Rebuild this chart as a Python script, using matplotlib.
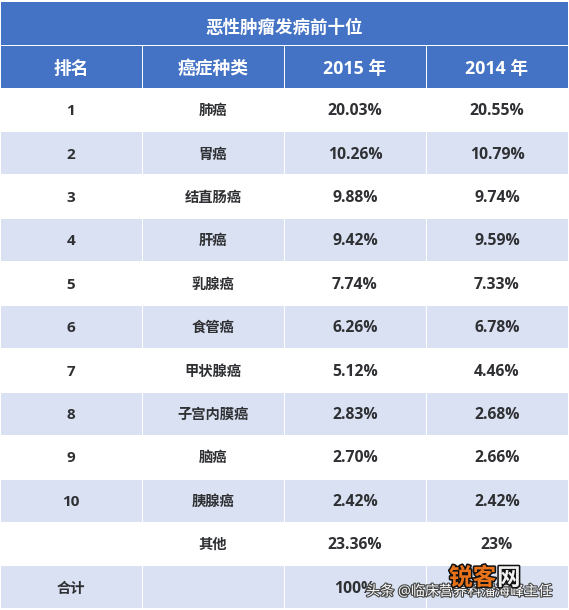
import matplotlib
matplotlib.use("Agg")
import matplotlib.pyplot as plt
from matplotlib.patches import Rectangle
import matplotlib.patheffects as pe

plt.rcParams['font.family'] = ['Open Sans', 'Noto Sans CJK SC', 'DejaVu Sans']

title = "恶性肿瘤发病前十位"
headers = ["排名", "癌症种类", "2015 年", "2014 年"]
ranks = ["1", "2", "3", "4", "5", "6", "7", "8", "9", "10", "", "合计"]
cancers = ["肺癌", "胃癌", "结直肠癌", "肝癌", "乳腺癌", "食管癌", "甲状腺癌", "子宫内膜癌", "脑癌", "胰腺癌", "其他", ""]
y2015 = ["20.03%", "10.26%", "9.88%", "9.42%", "7.74%", "6.26%", "5.12%", "2.83%", "2.70%", "2.42%", "23.36%", "100%"]
y2014 = ["20.55%", "10.79%", "9.74%", "9.59%", "7.33%", "6.78%", "4.46%", "2.68%", "2.66%", "2.42%", "23%", ""]

W, H = 569, 610
fig = plt.figure(figsize=(W / 100, H / 100), dpi=100)
ax = fig.add_axes([0, 0, 1, 1])
ax.set_xlim(0, W)
ax.set_ylim(H, 0)
ax.axis("off")

BLUE = "#4472c4"
BAND = "#d9e1f2"
INK = "#2f3033"
col_x = [1, 142, 284, 426, 568]
row_h = 43.4
top = 88.0

def cell(x0, x1, y0, y1, c):
    ax.add_patch(Rectangle((x0, y0), x1 - x0, y1 - y0, fc=c, ec="none"))

cell(1, 568, 2, 44.5, BLUE)
ax.text(284, 27.5, title, color="white", fontsize=12.6, fontweight="bold", ha="center", va="center")
for i, h in enumerate(headers):
    cell(col_x[i] + (1 if i else 0), col_x[i + 1], 46, 88, BLUE)
    ax.text((col_x[i] + col_x[i + 1]) / 2, 69, h, color="white", fontsize=12.8, fontweight="bold", ha="center", va="center")

for r in range(len(ranks)):
    y0 = top + r * row_h
    y1 = y0 + row_h
    yc = (y0 + y1) / 2 + 1.5
    if r % 2 == 1:
        for i in range(4):
            cell(col_x[i] + (1 if i else 0), col_x[i + 1], y0 + 1, y1 - 0.5, BAND)
    vals = [ranks[r], cancers[r], y2015[r], y2014[r]]
    for i, v in enumerate(vals):
        xc = (col_x[i] + col_x[i + 1]) / 2 - (0.5 if i == 0 else 0)
        fs = 11.3 if i >= 2 else (11.0 if v.isdigit() else 10.3)
        ax.text(xc, yc, v, color=INK, fontsize=fs, fontweight="bold", ha="center", va="center")

# watermark
ax.text(366, 592, "头条 @临床营养科潘海峰主任", color="#ffffff", fontsize=10.2, ha="left", va="center",
        path_effects=[pe.withStroke(linewidth=1.6, foreground="#444444")])
ax.text(449, 579, "锐客", color="#e8731a", fontsize=17, fontweight="bold", ha="left", va="center",
        path_effects=[pe.withStroke(linewidth=2.2, foreground="#111111")])
ax.text(497, 579, "网", color="#f2f2f2", fontsize=17, fontweight="bold", ha="left", va="center",
        path_effects=[pe.withStroke(linewidth=2.2, foreground="#111111")])

fig.savefig("out.png", dpi=100)
